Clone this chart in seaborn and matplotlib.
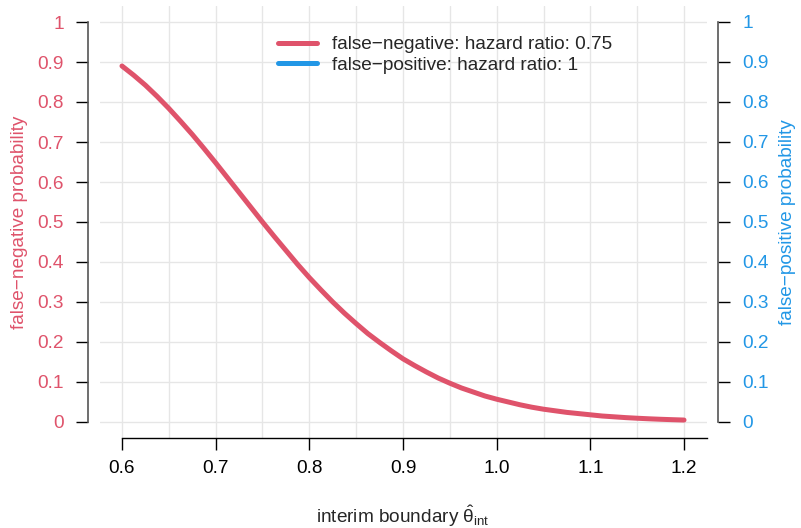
import matplotlib
matplotlib.use('Agg')
import matplotlib.pyplot as plt
from matplotlib.lines import Line2D
from matplotlib.ticker import MultipleLocator, FixedLocator, FixedFormatter
import seaborn as sns

# === DATA ===
boundary = [0.6000, 0.6125, 0.6250, 0.6375, 0.6500, 0.6625, 0.6750, 0.6875,
            0.7000, 0.7125, 0.7250, 0.7375, 0.7500, 0.7625, 0.7750, 0.7875,
            0.8000, 0.8125, 0.8250, 0.8375, 0.8500, 0.8625, 0.8750, 0.8875,
            0.9000, 0.9125, 0.9250, 0.9375, 0.9500, 0.9625, 0.9750, 0.9875,
            1.0000, 1.0125, 1.0250, 1.0375, 1.0500, 1.0625, 1.0750, 1.0875,
            1.1000, 1.1125, 1.1250, 1.1375, 1.1500, 1.1625, 1.1750, 1.1875,
            1.2000]
false_negative = [0.890, 0.867, 0.842, 0.814, 0.784, 0.752, 0.719, 0.684,
                  0.648, 0.611, 0.574, 0.537, 0.500, 0.464, 0.429, 0.394,
                  0.361, 0.330, 0.300, 0.272, 0.246, 0.221, 0.199, 0.178,
                  0.158, 0.141, 0.125, 0.110, 0.097, 0.085, 0.075, 0.065,
                  0.057, 0.050, 0.043, 0.037, 0.032, 0.028, 0.024, 0.021,
                  0.018, 0.015, 0.013, 0.011, 0.0094, 0.0080, 0.0068, 0.0058,
                  0.0049]
legend_labels = ['false\u2212negative: hazard ratio: 0.75',
                 'false\u2212positive: hazard ratio: 1']
x_ticks = [0.6, 0.7, 0.8, 0.9, 1.0, 1.1, 1.2]
y_ticks = [0, 0.1, 0.2, 0.3, 0.4, 0.5, 0.6, 0.7, 0.8, 0.9, 1]

red = '#DF536B'
blue = '#2297E6'
grid_col = '#E6E6E6'
fs = 13.7

# === STYLE ===
sns.set_style('white')
plt.rcParams['font.family'] = ['Liberation Sans', 'DejaVu Sans']
plt.rcParams['mathtext.fontset'] = 'custom'
plt.rcParams['mathtext.rm'] = 'Liberation Sans'
plt.rcParams['mathtext.it'] = 'Liberation Sans'
plt.rcParams['axes.unicode_minus'] = True

fig = plt.figure(figsize=(8.01, 5.28), dpi=100)
W, H = 801, 528
ax = fig.add_axes([99.5 / W, (H - 438) / H, 607 / W, 432 / H])

sns.lineplot(x=boundary, y=false_negative, color=red, lw=3.6, ax=ax,
             solid_capstyle='round', zorder=3)

ax.set_xlim(0.576, 1.224)
ax.set_ylim(-0.04, 1.04)

# grid: vertical every 0.05, horizontal every 0.1
ax.xaxis.set_major_locator(FixedLocator(x_ticks))
ax.xaxis.set_major_formatter(FixedFormatter([f'{v:.1f}' for v in x_ticks]))
ax.xaxis.set_minor_locator(MultipleLocator(0.05))
ax.yaxis.set_major_locator(FixedLocator(y_ticks))
ax.yaxis.set_major_formatter(FixedFormatter([f'{v:g}' for v in y_ticks]))
ax.grid(True, which='both', color=grid_col, lw=1.0, zorder=0)
ax.set_axisbelow(True)

ax.tick_params(axis='x', which='major', length=8.6, width=1.0, color='black',
               pad=7, direction='out', bottom=True, labelsize=fs,
               labelcolor='black')
ax.tick_params(axis='x', which='minor', length=0)
ax.tick_params(axis='y', length=8.6, width=1.0, color='black', pad=9,
               direction='out', left=True, labelsize=fs, labelcolor=red)

for s in ['top', 'right']:
    ax.spines[s].set_visible(False)
ax.spines['left'].set_position(('outward', 8))
ax.spines['left'].set_bounds(0, 1)
ax.spines['left'].set_color('#555555')
ax.spines['left'].set_linewidth(1.2)
ax.spines['bottom'].set_bounds(0.6, 1.224)
ax.spines['bottom'].set_color('black')
ax.spines['bottom'].set_linewidth(1.0)

ax.set_ylabel('false\u2212negative probability', color=red, fontsize=fs)
ax.yaxis.set_label_coords((20 - 99.5) / 607, 0.5)
ax.yaxis.label.set_va('center')
ax.set_xlabel(r'interim boundary $\hat{\theta}_{\mathrm{int}}$', fontsize=fs)
ax.xaxis.set_label_coords(0.5, (438 - 516) / 432)
ax.xaxis.label.set_va('center')

# right axis
ax2 = ax.twinx()
ax2.set_ylim(-0.04, 1.04)
ax2.yaxis.set_major_locator(FixedLocator(y_ticks))
ax2.yaxis.set_major_formatter(FixedFormatter([f'{v:g}' for v in y_ticks]))
ax2.tick_params(axis='y', length=8.6, width=1.0, color='black', pad=9,
                direction='out', right=True, labelsize=fs, labelcolor=blue)
for s in ['top', 'left', 'bottom']:
    ax2.spines[s].set_visible(False)
ax2.spines['right'].set_position(('outward', 8))
ax2.spines['right'].set_bounds(0, 1)
ax2.spines['right'].set_color('#555555')
ax2.spines['right'].set_linewidth(1.2)
ax2.grid(False)
ax2.set_ylabel('false\u2212positive probability', color=blue, fontsize=fs,
               rotation=90)
ax2.yaxis.set_label_coords((788 - 99.5) / 607, 0.5)
ax2.yaxis.label.set_va('center')

# legend
handles = [Line2D([], [], color=red, lw=3.6, solid_capstyle='round'),
           Line2D([], [], color=blue, lw=3.6, solid_capstyle='round')]
fig.legend(handles, legend_labels, loc='upper left',
           bbox_to_anchor=(278 / W, 1 - 36 / H), frameon=False, fontsize=fs,
           handlelength=2.05, handletextpad=0.8, labelspacing=0.18,
           borderpad=0, borderaxespad=0)

fig.savefig('out.png', dpi=100)
